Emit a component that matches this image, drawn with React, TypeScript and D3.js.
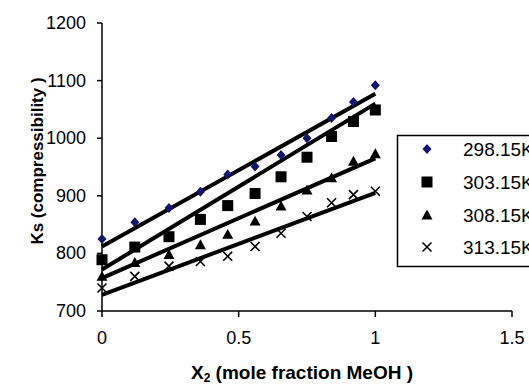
import React from "react";
import * as d3 from "d3";

const xValues = [0, 0.12, 0.245, 0.36, 0.46, 0.56, 0.655, 0.75, 0.84, 0.92, 1.0];
const seriesNames = ["298.15K", "303.15K", "308.15K", "313.15K"];
const ks298 = [825, 854, 879, 907, 937, 951, 971, 1000, 1035, 1063, 1092];
const ks303 = [789, 811, 829, 859, 883, 904, 933, 967, 1003, 1029, 1049];
const ks308 = [760, 784, 798, 815, 833, 856, 882, 910, 931, 960, 973];
const ks313 = [740, 760, 778, 786, 795, 812, 835, 864, 888, 902, 908];
const fitStart = [812, 772, 757, 728];
const fitEnd = [1077, 1060, 965, 905];
const xTicks = [0, 0.5, 1, 1.5];
const yTicks = [700, 800, 900, 1000, 1100, 1200];

const allSeries = [ks298, ks303, ks308, ks313];
const FONT = "'Liberation Sans', Arial, sans-serif";

function Marker({ kind, x, y }: { kind: number; x: number; y: number }) {
  if (kind === 0) {
    const s = 5;
    return <path d={`M${x},${y - s}L${x + s * 0.9},${y}L${x},${y + s}L${x - s * 0.9},${y}Z`} fill="#14146e" />;
  }
  if (kind === 1) {
    const s = 5.5;
    return <rect x={x - s} y={y - s} width={2 * s} height={2 * s} fill="#000" />;
  }
  if (kind === 2) {
    const s = 5.5;
    return <path d={`M${x},${y - s}L${x + s},${y + s * 0.8}L${x - s},${y + s * 0.8}Z`} fill="#000" />;
  }
  const s = 4.5;
  return (
    <path
      d={`M${x - s},${y - s}L${x + s},${y + s}M${x - s},${y + s}L${x + s},${y - s}`}
      stroke="#000"
      strokeWidth={1.6}
      fill="none"
    />
  );
}

export default function App() {
  const x = d3.scaleLinear().domain([0, 1.5]).range([102, 512]);
  const y = d3.scaleLinear().domain([700, 1200]).range([311, 23]);
  const line = d3
    .line<[number, number]>()
    .x((d) => x(d[0]))
    .y((d) => y(d[1]));

  const legendY = [149, 182, 215, 247];

  return (
    <svg
      width={529}
      height={389}
      style={{ position: "absolute", left: 0, top: 0, background: "#fff" }}
      fontFamily={FONT}
    >
      <rect width={529} height={389} fill="#fff" />
      {/* axes */}
      <line x1={x(0)} x2={x(0)} y1={y(1200)} y2={y(700)} stroke="#000" strokeWidth={1.5} />
      <line x1={x(0)} x2={x(1.5)} y1={y(700)} y2={y(700)} stroke="#000" strokeWidth={1.5} />
      {yTicks.map((t) => (
        <g key={t}>
          <line x1={x(0) - 5} x2={x(0)} y1={y(t)} y2={y(t)} stroke="#000" strokeWidth={1.5} />
          <text x={x(0) - 16} y={y(t) + 6} textAnchor="end" fontSize={18} fill="#000">
            {t}
          </text>
        </g>
      ))}
      {xTicks.map((t) => (
        <g key={t}>
          <line x1={x(t)} x2={x(t)} y1={y(700)} y2={y(700) + 6} stroke="#000" strokeWidth={1.5} />
          <text x={x(t)} y={y(700) + 33} textAnchor="middle" fontSize={18} fill="#000">
            {t}
          </text>
        </g>
      ))}
      {/* fit lines */}
      {fitStart.map((s, i) => (
        <path
          key={"f" + i}
          d={line([
            [0, s],
            [1, fitEnd[i]],
          ]) as string}
          stroke="#000"
          strokeWidth={4}
          fill="none"
        />
      ))}
      {/* markers */}
      {allSeries.map((vals, si) =>
        vals.map((v, i) => <Marker key={si + "-" + i} kind={si} x={x(xValues[i])} y={y(v)} />)
      )}
      {/* axis titles */}
      <text
        transform={`translate(43,161) rotate(-90)`}
        textAnchor="middle"
        fontSize={17}
        fontWeight="bold"
        fill="#000"
      >
        Ks (compressibility )
      </text>
      <text x={302} y={379} textAnchor="middle" fontSize={19} fontWeight="bold" fill="#000">
        X<tspan fontSize={12} dy={3}>2</tspan>
        <tspan dy={-3}> (mole fraction MeOH )</tspan>
      </text>
      {/* legend */}
      <rect x={397.5} y={135.5} width={140} height={131} fill="#fff" stroke="#000" strokeWidth={1.5} />
      {seriesNames.map((n, i) => (
        <g key={n}>
          <Marker kind={i} x={427} y={legendY[i]} />
          <text x={463} y={legendY[i] + 6.5} fontSize={19} fill="#000">
            {n}
          </text>
        </g>
      ))}
    </svg>
  );
}
